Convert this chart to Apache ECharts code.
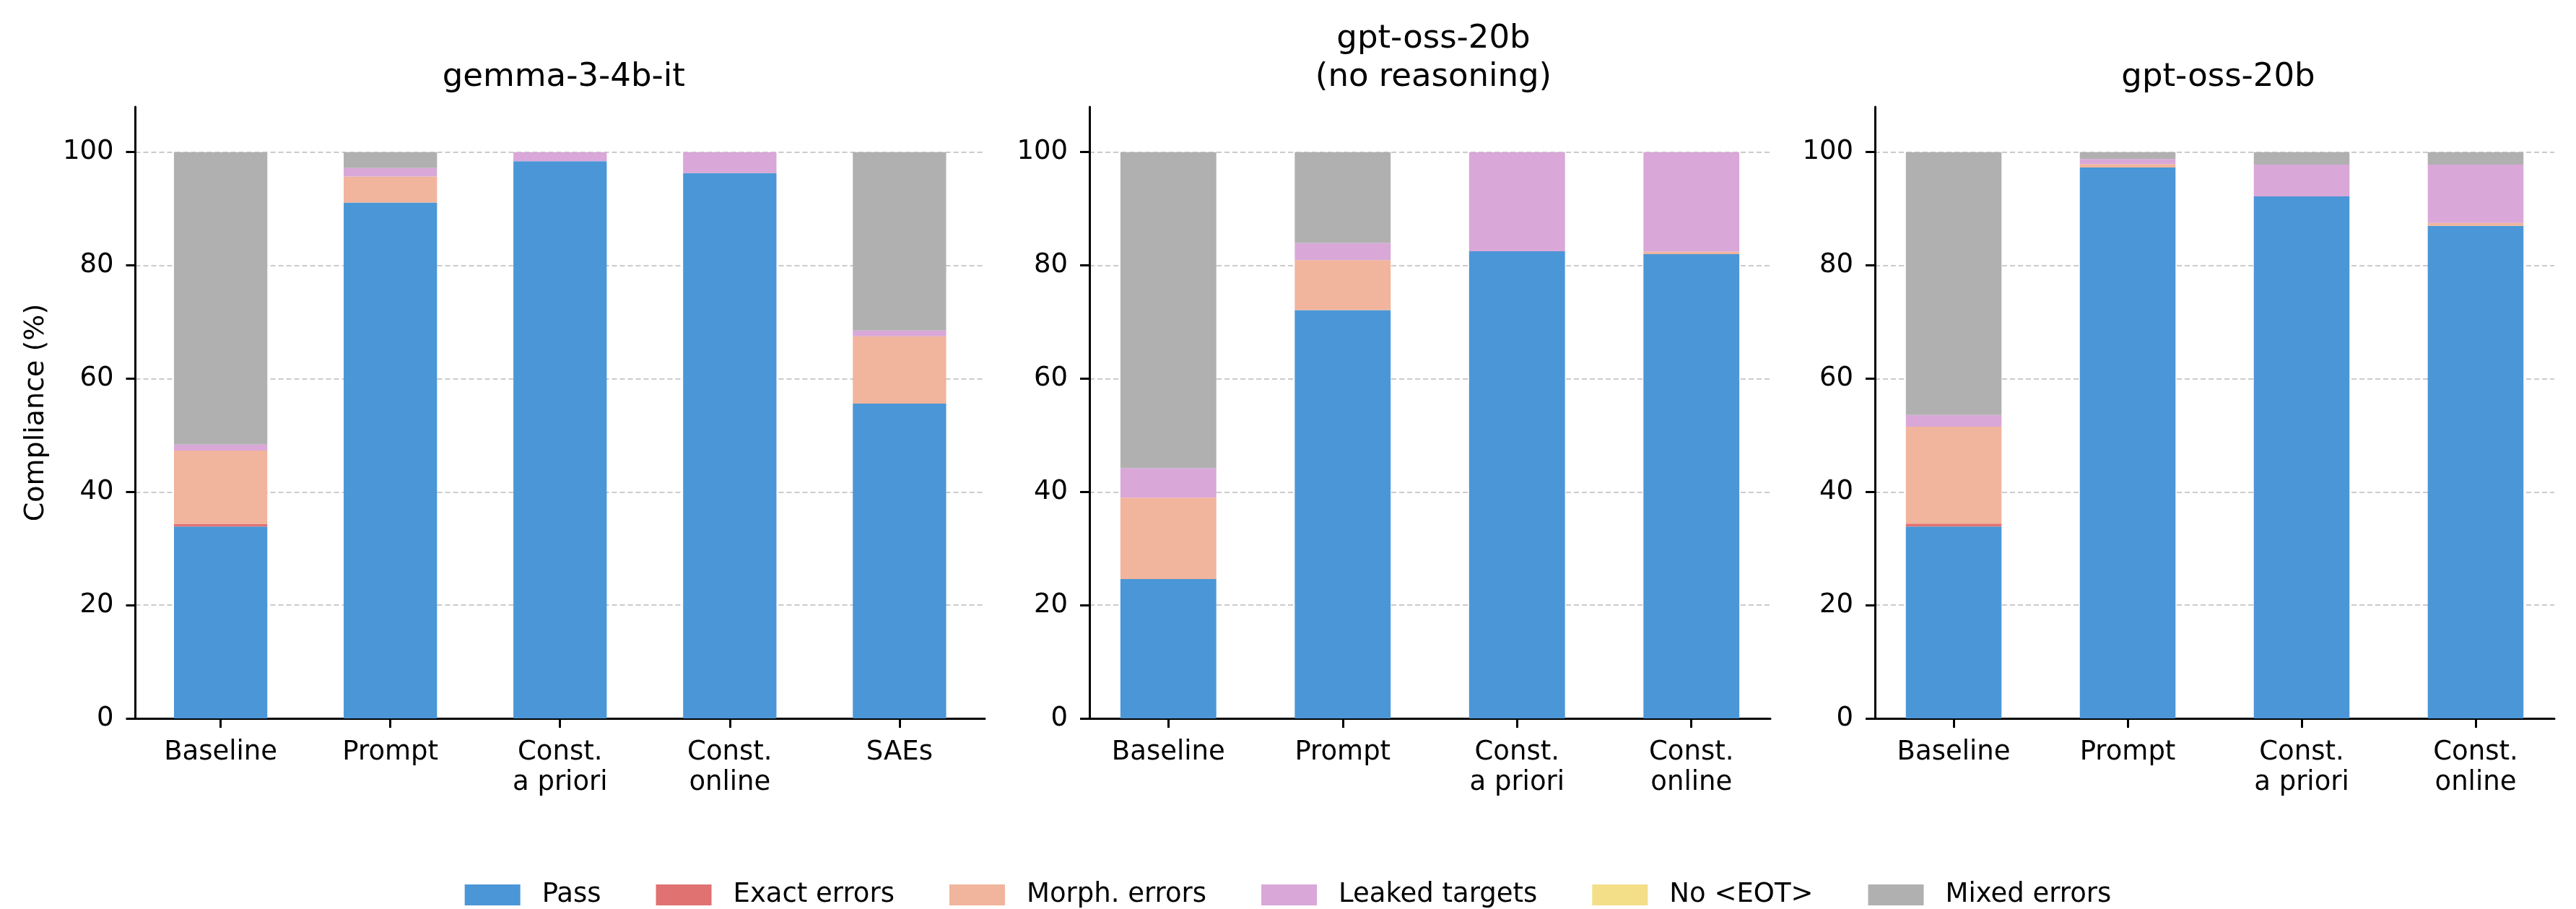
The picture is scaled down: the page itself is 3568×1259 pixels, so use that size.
<!DOCTYPE html>
<html>
<head>
<meta charset="utf-8">
<script src="https://cdn.jsdelivr.net/npm/echarts@6/dist/echarts.min.js"></script>
<style>
  html, body { margin: 0; padding: 0; background: #fff; }
  #chart { width: 3568px; height: 1259px; }
</style>
</head>
<body>
<div id="chart"></div>
<script>
// categories
const catsGemma = ['Baseline', 'Prompt', 'Const.\na priori', 'Const.\nonline', 'SAEs'];
const catsGpt = ['Baseline', 'Prompt', 'Const.\na priori', 'Const.\nonline'];
const panelTitles = ['gemma-3-4b-it', 'gpt-oss-20b\n(no reasoning)', 'gpt-oss-20b'];
const errorTypes = ['Pass', 'Exact errors', 'Morph. errors', 'Leaked targets', 'No <EOT>', 'Mixed errors'];
const yTicks = [0, 20, 40, 60, 80, 100];

// gemma-3-4b-it
const gemmaPass   = [33.9, 91.1, 98.4, 96.3, 55.6];
const gemmaExact  = [0.45, 0, 0, 0, 0];
const gemmaMorph  = [12.95, 4.6, 0, 0, 11.9];
const gemmaLeaked = [1.05, 1.5, 1.6, 3.7, 1.0];
const gemmaNoEot  = [0, 0, 0, 0, 0];
const gemmaMixed  = [51.65, 2.8, 0, 0, 31.5];

// gpt-oss-20b (no reasoning)
const nrPass   = [24.6, 72.1, 82.5, 82.0];
const nrExact  = [0, 0, 0, 0];
const nrMorph  = [14.4, 8.85, 0, 0.45];
const nrLeaked = [5.2, 3.0, 17.5, 17.55];
const nrNoEot  = [0, 0, 0, 0];
const nrMixed  = [55.8, 16.05, 0, 0];

// gpt-oss-20b
const gptPass   = [33.9, 97.3, 92.2, 87.0];
const gptExact  = [0.5, 0, 0, 0];
const gptMorph  = [17.1, 0.6, 0, 0.5];
const gptLeaked = [2.1, 0.9, 5.6, 10.3];
const gptNoEot  = [0, 0, 0, 0];
const gptMixed  = [46.4, 1.2, 2.2, 2.2];

const colors = ['#4b96d6', '#e07272', '#f1b49c', '#d9a7d8', '#f3df88', '#b0b0b0'];
const FONT = 'DejaVu Sans';

const panels = [
  { cats: catsGemma, left: 187.5, width: 1176.5, data: [gemmaPass, gemmaExact, gemmaMorph, gemmaLeaked, gemmaNoEot, gemmaMixed] },
  { cats: catsGpt, left: 1509, width: 943, data: [nrPass, nrExact, nrMorph, nrLeaked, nrNoEot, nrMixed] },
  { cats: catsGpt, left: 2597, width: 941, data: [gptPass, gptExact, gptMorph, gptLeaked, gptNoEot, gptMixed] }
];
const gridTop = 148, gridHeight = 847;

const grid = [], xAxis = [], yAxis = [], title = [], series = [];

panels.forEach((p, pi) => {
  const n = p.cats.length;
  // matplotlib-style margins: bars of width 0.55 plus 5% padding
  const span = (n - 1) + 0.55;
  const pad = span * 0.05;
  const xmin = -0.275 - pad, xmax = (n - 1) + 0.275 + pad;
  const idx = p.cats.map((c, i) => i);
  const barPx = 0.55 * p.width / (xmax - xmin);

  grid.push({ left: p.left, top: gridTop, width: p.width, height: gridHeight, containLabel: false });
  title.push({
    text: panelTitles[pi],
    left: p.left + p.width / 2,
    textAlign: 'center',
    top: pi === 1 ? 23 : 76,
    textStyle: { fontFamily: FONT, fontSize: 45, fontWeight: 'normal', color: '#000', lineHeight: 53 }
  });
  xAxis.push({
    type: 'value', gridIndex: pi, min: xmin, max: xmax,
    axisLine: { show: true, onZero: false, lineStyle: { color: '#000', width: 3 } },
    axisTick: { show: true, customValues: idx, length: 13, lineStyle: { color: '#000', width: 3 } },
    axisLabel: {
      customValues: idx, formatter: v => p.cats[Math.round(v)],
      fontFamily: FONT, fontSize: 37, color: '#000', margin: 26, lineHeight: 42
    },
    splitLine: { show: false }
  });
  yAxis.push({
    type: 'value', gridIndex: pi, min: 0, max: 108,
    name: pi === 0 ? 'Compliance (%)' : '',
    nameLocation: 'middle', nameGap: 118,
    nameTextStyle: { fontFamily: FONT, fontSize: 38, color: '#000' },
    axisLine: { show: true, onZero: false, lineStyle: { color: '#000', width: 3 } },
    axisTick: { show: true, customValues: yTicks, length: 13, lineStyle: { color: '#000', width: 3 } },
    axisLabel: { customValues: yTicks, fontFamily: FONT, fontSize: 37, color: '#000', margin: 30 },
    splitLine: { show: true, lineStyle: { color: '#cbcbcb', width: 2, type: [7, 4] } }
  });
  errorTypes.forEach((name, si) => {
    series.push({
      type: 'bar', name: name,
      xAxisIndex: pi, yAxisIndex: pi,
      stack: 'panel' + pi,
      barWidth: barPx,
      encode: { x: 1, y: 0 },
      itemStyle: { color: colors[si] },
      data: p.data[si].map((v, i) => [v, i])
    });
  });
});

const chart = echarts.init(document.getElementById('chart'));
chart.setOption({
  animation: false,
  color: colors,
  title: title,
  grid: grid,
  xAxis: xAxis,
  yAxis: yAxis,
  legend: {
    data: errorTypes,
    left: 'center',
    top: 1221,
    padding: 0,
    icon: 'rect',
    itemWidth: 77,
    itemHeight: 29,
    itemGap: 76,
    textStyle: { fontFamily: FONT, fontSize: 37, color: '#000', padding: [0, 0, 0, 25] }
  },
  series: series
});
</script>
</body>
</html>
